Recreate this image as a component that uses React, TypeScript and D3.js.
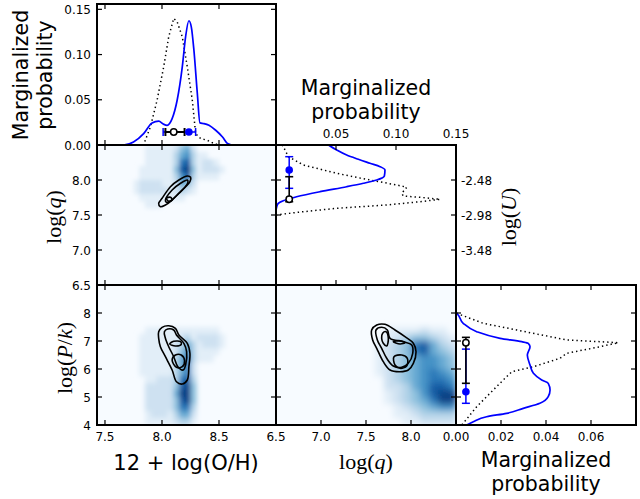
import * as d3 from "d3";

// axis domains
const ohDomain: [number, number] = [7.43, 9.0];
const qDomain: [number, number] = [6.5, 8.5];
const pkDomain: [number, number] = [4, 9];
const probOHDomain: [number, number] = [0, 0.1559];
const probQDomain: [number, number] = [0, 0.15];
const probPkDomain: [number, number] = [0, 0.08];

// ticks
const ohTicks = [7.5, 8.0, 8.5];
const qTicks = [7.0, 7.5, 8.0];
const qTickLabels = [6.5, 7.0, 7.5, 8.0];
const pkTicks = [5, 6, 7, 8];
const pkTickLabels = [4, 5, 6, 7, 8];
const probOHTicks = [0, 0.05, 0.1, 0.15];
const probQTicks = [0.05, 0.1];
const probQTickLabels = [0.05, 0.1, 0.15];
const probPkTicks = [0.02, 0.04, 0.06];
const probPkTickLabels = [0, 0.02, 0.04, 0.06];
const logUTicks = [8.0, 7.5, 7.0]; // log(U) = log(q) - 10.48
const logULabels = ["-2.48", "-2.98", "-3.48"];

// marginal curves: [parameter, probability]
const ohBlue: [number, number][] = [
  [7.43, 0], [7.662, 0], [7.75, 0.0033], [7.839, 0.0126], [7.913, 0.0244], [7.971, 0.0263],
  [8.015, 0.0229], [8.045, 0.0218], [8.089, 0.0292], [8.133, 0.0495], [8.178, 0.0864],
  [8.207, 0.1196], [8.236, 0.1374], [8.257, 0.1307], [8.28, 0.1049], [8.31, 0.0569],
  [8.333, 0.0244], [8.368, 0.0237], [8.412, 0.0218], [8.471, 0.0163], [8.531, 0.0089],
  [8.575, 0.0016], [8.62, 0], [9.0, 0],
];
const ohDotted: [number, number][] = [
  [7.83, 0], [7.839, 0.0004], [7.898, 0.0199], [7.957, 0.0495], [8.015, 0.0864], [8.059, 0.1196],
  [8.103, 0.14], [8.133, 0.1363], [8.178, 0.1196], [8.222, 0.0864], [8.266, 0.0495],
  [8.295, 0.0126], [8.339, 0.0071], [8.398, 0.0052], [8.457, 0.0016], [8.5, 0],
];
const qBlue: [number, number][] = [
  [8.55, 0.04], [8.486, 0.045], [8.429, 0.0506], [8.357, 0.0589], [8.296, 0.0686], [8.239, 0.0783],
  [8.19, 0.0867], [8.143, 0.0908], [8.057, 0.0903], [8.0, 0.0839], [7.953, 0.0728],
  [7.904, 0.0589], [7.833, 0.0367], [7.761, 0.0172], [7.704, 0.0061], [7.667, 0.0019],
  [7.619, 0.0006], [7.55, 0], [6.5, 0],
];
const qDotted: [number, number][] = [
  [8.5, 0.005], [8.476, 0.0061], [8.333, 0.0103], [8.214, 0.0228], [8.096, 0.0506], [8.0, 0.0783],
  [7.929, 0.1006], [7.896, 0.1089], [7.81, 0.1048], [7.771, 0.1061], [7.753, 0.12],
  [7.724, 0.1367], [7.69, 0.12], [7.643, 0.0922], [7.596, 0.0506], [7.547, 0.0228],
  [7.514, 0.0061], [7.5, 0.0006],
];
const pkBlue: [number, number][] = [
  [9.0, 0], [8.0, 0], [7.989, 0.0003], [7.632, 0.0032], [7.332, 0.0092], [7.096, 0.0196],
  [6.975, 0.0292], [6.918, 0.0321], [6.796, 0.0329], [6.5, 0.0317], [6.143, 0.0329],
  [5.846, 0.0344], [5.607, 0.0381], [5.489, 0.041], [5.25, 0.0418], [5.011, 0.041],
  [4.775, 0.0373], [4.596, 0.0299], [4.418, 0.0225], [4.296, 0.0136], [4.118, 0.0077],
  [4.0, 0.0048], [3.95, 0.004],
];
const pkDotted: [number, number][] = [
  [7.989, 0.0003], [7.632, 0.0121], [7.393, 0.027], [7.036, 0.0492], [6.975, 0.064],
  [6.939, 0.0721], [6.796, 0.064], [6.561, 0.0492], [6.382, 0.0462], [6.082, 0.0344],
  [5.904, 0.0248], [5.607, 0.021], [5.132, 0.0151], [4.654, 0.0092], [4.061, 0.0032], [4.0, 0.0025],
];

// best estimates: [low, best, high]
const ohBlueErr = [8.01, 8.236, 8.295];
const ohBlackErr = [8.03, 8.103, 8.198];
const qBlueErr = [7.881, 8.143, 8.333];
const qBlackErr = [7.69, 7.724, 8.047];
const pkBlueErr = [4.775, 5.19, 6.71];
const pkBlackErr = [5.489, 6.939, 7.13];

// 2D density grids, 0-9 scale, one string per row from the top
// 12+log(O/H) columns from 7.40 step 0.05, log(q) rows from 8.5 step 0.1
const heatOHq = [
  "00000000011111245200000000000000",
  "00000000011111356311000000000000",
  "00000000011111378312210000000000",
  "00000000111111489412221000000000",
  "00000000111111368311110000000000",
  "00000001222211254200000000000000",
  "00000001222221232100000000000000",
  "00000000111111110000000000000000",
  "00000000011100000000000000000000",
];
// 12+log(O/H) columns from 7.40 step 0.05, log(P/k) rows from 9.0 step 0.25
const heatOHpk = [
  "", "", "", "", "", "",
  "00000000011111111111110000000000",
  "00000000111111123122221000000000",
  "00000000111111235312221000000000",
  "00000000111111246311110000000000",
  "00000000111111357311100000000000",
  "00000000111111357200000000000000",
  "00000000111111357200000000000000",
  "00000000011222378300000000000000",
  "00000000022222489400000000000000",
  "00000000022222599400000000000000",
  "00000000022222489400000000000000",
  "00000000022222477300000000000000",
  "00000000012221355200000000000000",
  "00000000011111233100000000000000",
];
// log(q) columns from 6.5 step 0.1, log(P/k) rows from 9.0 step 0.25
const heatQpk = [
  "", "", "", "", "", "",
  "00000000000011112110",
  "00000000000012344321",
  "00000000000123478532",
  "00000000000123478543",
  "00000000000123456654",
  "00000000000123456654",
  "00000000000123456765",
  "00000000000023456776",
  "00000000000022356887",
  "00000000000012346899",
  "00000000000012345799",
  "00000000000001234566",
  "00000000000001123333",
  "00000000000000112222",
];

// contour loops (black), [x, y] in data units
const contOHq: [number, number][][] = [
  [[7.971, 7.667], [8.001, 7.739], [8.074, 7.904], [8.148, 8.0], [8.222, 8.057], [8.251, 8.039],
   [8.245, 7.976], [8.207, 7.904], [8.148, 7.81], [8.089, 7.714], [8.03, 7.643], [7.986, 7.619]],
  [[8.03, 7.714], [8.089, 7.857], [8.163, 7.953], [8.222, 8.0], [8.227, 7.961], [8.192, 7.881],
   [8.133, 7.786], [8.074, 7.7], [8.039, 7.681]],
  [[8.039, 7.739], [8.074, 7.753], [8.089, 7.714], [8.059, 7.696]],
];
const contOHpk: [number, number][][] = [
  [[7.971, 7.332], [8.001, 7.489], [8.059, 7.546], [8.118, 7.454], [8.148, 7.214], [8.222, 6.918],
   [8.245, 6.561], [8.236, 6.082], [8.222, 5.607], [8.178, 5.464], [8.127, 5.546], [8.089, 5.964],
   [8.03, 6.439], [7.986, 6.796], [7.971, 7.096]],
  [[8.021, 7.332], [8.05, 7.429], [8.103, 7.393], [8.127, 7.214], [8.192, 6.918], [8.216, 6.618],
   [8.207, 6.143], [8.186, 5.964], [8.139, 6.082], [8.103, 6.439], [8.059, 6.796], [8.03, 7.096]],
  [[8.068, 6.893], [8.103, 6.989], [8.163, 6.975], [8.169, 6.882], [8.118, 6.821]],
  [[8.089, 6.321], [8.118, 6.5], [8.169, 6.5], [8.198, 6.296], [8.178, 6.082], [8.127, 6.061]],
];
const contQpk: [number, number][][] = [
  [[7.563, 7.393], [7.619, 7.571], [7.711, 7.596], [7.822, 7.393], [7.933, 7.154], [8.026, 6.918],
   [8.056, 6.618], [8.026, 6.204], [7.97, 5.964], [7.878, 5.904], [7.767, 5.964], [7.692, 6.261],
   [7.619, 6.739], [7.574, 7.036]],
  [[7.611, 7.393], [7.674, 7.489], [7.737, 7.393], [7.767, 7.096], [7.915, 6.975], [8.008, 6.857],
   [8.019, 6.561], [7.97, 6.204], [7.897, 6.061], [7.803, 6.107], [7.73, 6.382], [7.674, 6.739],
   [7.626, 7.036]],
  [[7.685, 7.275], [7.722, 7.332], [7.748, 7.096], [7.73, 6.821], [7.692, 6.918], [7.674, 7.096]],
  [[7.803, 6.975], [7.878, 7.011], [7.933, 6.939], [7.878, 6.893]],
  [[7.811, 6.439], [7.897, 6.5], [7.959, 6.382], [7.952, 6.107], [7.878, 6.025], [7.822, 6.143]],
];

// layout
const W = 640, H = 499;
const L = 97, C1 = 276, C2 = 456, R = 636;
const T = 4, M1 = 145, M2 = 285, B = 425;
const sans = "DejaVu Sans, sans-serif";
const serif = "Liberation Serif, DejaVu Serif, serif";
const blue = "#0000ff";

type Scale = d3.ScaleLinear<number, number>;

function Heat({ id, rows, x, y, colStart, colStep, rowTop, rowStep, blur }: {
  id: string; rows: string[]; x: Scale; y: Scale;
  colStart: number; colStep: number; rowTop: number; rowStep: number; blur: number;
}) {
  const cells: JSX.Element[] = [];
  rows.forEach((row, j) => {
    for (let i = 0; i < row.length; i++) {
      const v = +row[i];
      if (!v) continue;
      const x0 = x(colStart + i * colStep), x1 = x(colStart + (i + 1) * colStep);
      const y0 = y(rowTop - j * rowStep), y1 = y(rowTop - (j + 1) * rowStep);
      cells.push(
        <rect key={`${id}-${i}-${j}`} x={x0} y={y0} width={x1 - x0 + 0.4} height={y1 - y0 + 0.4}
          fill={d3.interpolateBlues((v / 9) * 0.93)} />
      );
    }
  });
  return (
    <g clipPath={`url(#${id})`}>
      <filter id={`${id}-blur`} x="-10%" y="-10%" width="120%" height="120%">
        <feGaussianBlur stdDeviation={blur} />
      </filter>
      <g filter={`url(#${id}-blur)`}>{cells}</g>
    </g>
  );
}

function Frame({ x0, x1, y0, y1, xt, yt }: { x0: number; x1: number; y0: number; y1: number; xt: number[]; yt: number[] }) {
  const tl = 5;
  return (
    <g stroke="#000">
      {xt.map((px, i) => (
        <g key={`x${i}`} strokeWidth={1.2}>
          <line x1={px} x2={px} y1={y1} y2={y1 - tl} />
          <line x1={px} x2={px} y1={y0} y2={y0 + tl} />
        </g>
      ))}
      {yt.map((py, i) => (
        <g key={`y${i}`} strokeWidth={1.2}>
          <line x1={x0} x2={x0 + tl} y1={py} y2={py} />
          <line x1={x1} x2={x1 - tl} y1={py} y2={py} />
        </g>
      ))}
      <rect x={x0} y={y0} width={x1 - x0} height={y1 - y0} fill="none" strokeWidth={2} />
    </g>
  );
}

export default function App() {
  const xOH = d3.scaleLinear().domain(ohDomain).range([L, C1]);
  const xQ = d3.scaleLinear().domain(qDomain).range([C1, C2]);
  const xProbQ = d3.scaleLinear().domain(probQDomain).range([C1, C2]);
  const xProbPk = d3.scaleLinear().domain(probPkDomain).range([C2, R]);
  const yProbOH = d3.scaleLinear().domain(probOHDomain).range([M1, T]);
  const yQ = d3.scaleLinear().domain(qDomain).range([M2, M1]);
  const yPk = d3.scaleLinear().domain(pkDomain).range([B, M2]);

  const ohLine = d3.line<[number, number]>().x(d => xOH(d[0])).y(d => yProbOH(d[1]));
  const qLine = d3.line<[number, number]>().x(d => xProbQ(d[1])).y(d => yQ(d[0]));
  const pkLine = d3.line<[number, number]>().x(d => xProbPk(d[1])).y(d => yPk(d[0]));

  const loop = (x: Scale, y: Scale) =>
    d3.line<[number, number]>().x(d => x(d[0])).y(d => y(d[1])).curve(d3.curveCatmullRomClosed.alpha(0.5));

  const hErr = (e: number[], yy: number, color: string, w: number) => (
    <g stroke={color} strokeWidth={w}>
      <line x1={xOH(e[0])} x2={xOH(e[2])} y1={yy} y2={yy} />
      <line x1={xOH(e[0])} x2={xOH(e[0])} y1={yy - 4} y2={yy + 4} />
      <line x1={xOH(e[2])} x2={xOH(e[2])} y1={yy - 4} y2={yy + 4} />
    </g>
  );
  const vErr = (e: number[], xx: number, y: Scale, color: string, w: number) => (
    <g stroke={color} strokeWidth={w}>
      <line x1={xx} x2={xx} y1={y(e[0])} y2={y(e[2])} />
      <line x1={xx - 4} x2={xx + 4} y1={y(e[0])} y2={y(e[0])} />
      <line x1={xx - 4} x2={xx + 4} y1={y(e[2])} y2={y(e[2])} />
    </g>
  );

  const ohErrY = yProbOH(0.0144);
  const qErrX = xProbQ(0.011);
  const pkErrX = xProbPk(0.0044);

  const tickText = { fontFamily: sans, fontSize: 12, fill: "#000" };
  const bigText = { fontFamily: sans, fontSize: 20.5, fill: "#000" };
  const mathText = { fontFamily: serif, fontSize: 22, fill: "#000" };

  return (
    <svg width={W} height={H} style={{ position: "absolute", left: 0, top: 0, background: "#fff" }}>
      <defs>
        <clipPath id="p1"><rect x={L} y={T} width={C1 - L} height={M1 - T} /></clipPath>
        <clipPath id="p2"><rect x={L} y={M1} width={C1 - L} height={M2 - M1} /></clipPath>
        <clipPath id="p3"><rect x={C1} y={M1} width={C2 - C1} height={M2 - M1} /></clipPath>
        <clipPath id="p4"><rect x={L} y={M2} width={C1 - L} height={B - M2} /></clipPath>
        <clipPath id="p5"><rect x={C1} y={M2} width={C2 - C1} height={B - M2} /></clipPath>
        <clipPath id="p6"><rect x={C2} y={M2} width={R - C2} height={B - M2} /></clipPath>
      </defs>

      {/* 2D panels */}
      <rect x={L} y={M1} width={C1 - L} height={M2 - M1} fill="#f7fbff" />
      <rect x={L} y={M2} width={C1 - L} height={B - M2} fill="#f7fbff" />
      <rect x={C1} y={M2} width={C2 - C1} height={B - M2} fill="#f7fbff" />
      <Heat id="p2" rows={heatOHq} x={xOH} y={yQ} colStart={7.4} colStep={0.05} rowTop={8.5} rowStep={0.1} blur={2.2} />
      <Heat id="p4" rows={heatOHpk} x={xOH} y={yPk} colStart={7.4} colStep={0.05} rowTop={9} rowStep={0.25} blur={2.4} />
      <Heat id="p5" rows={heatQpk} x={xQ} y={yPk} colStart={6.5} colStep={0.1} rowTop={9} rowStep={0.25} blur={3.2} />

      <g fill="none" stroke="#000" strokeWidth={1.6}>
        <g clipPath="url(#p2)">{contOHq.map((c, i) => <path key={i} d={loop(xOH, yQ)(c) ?? ""} />)}</g>
        <g clipPath="url(#p4)">{contOHpk.map((c, i) => <path key={i} d={loop(xOH, yPk)(c) ?? ""} />)}</g>
        <g clipPath="url(#p5)">{contQpk.map((c, i) => <path key={i} d={loop(xQ, yPk)(c) ?? ""} />)}</g>
      </g>

      {/* marginal panels */}
      <g clipPath="url(#p1)" fill="none">
        <path d={ohLine.curve(d3.curveLinear)(ohDotted) ?? ""} stroke="#000" strokeWidth={1.5} strokeDasharray="1.4 3" />
        <path d={ohLine.curve(d3.curveMonotoneX)(ohBlue) ?? ""} stroke={blue} strokeWidth={1.7} />
      </g>
      <g clipPath="url(#p3)" fill="none">
        <path d={qLine.curve(d3.curveLinear)(qDotted) ?? ""} stroke="#000" strokeWidth={1.5} strokeDasharray="1.4 3" />
        <path d={qLine.curve(d3.curveMonotoneY)(qBlue) ?? ""} stroke={blue} strokeWidth={1.7} />
      </g>
      <g clipPath="url(#p6)" fill="none">
        <path d={pkLine.curve(d3.curveLinear)(pkDotted) ?? ""} stroke="#000" strokeWidth={1.5} strokeDasharray="1.4 3" />
        <path d={pkLine.curve(d3.curveMonotoneY)(pkBlue) ?? ""} stroke={blue} strokeWidth={1.7} />
      </g>

      {/* error bars */}
      {hErr(ohBlueErr, ohErrY, blue, 1.5)}
      {hErr(ohBlackErr, ohErrY, "#000", 2)}
      <circle cx={xOH(ohBlackErr[1])} cy={ohErrY} r={3.2} fill="#fff" stroke="#000" strokeWidth={1.5} />
      <circle cx={xOH(ohBlueErr[1])} cy={ohErrY} r={3.8} fill={blue} />

      {vErr(qBlueErr, qErrX, yQ, blue, 1.5)}
      {vErr(qBlackErr, qErrX, yQ, "#000", 1.6)}
      <circle cx={qErrX} cy={yQ(qBlackErr[1])} r={3.2} fill="#fff" stroke="#000" strokeWidth={1.5} />
      <circle cx={qErrX} cy={yQ(qBlueErr[1])} r={3.8} fill={blue} />

      {vErr(pkBlueErr, pkErrX, yPk, blue, 1.5)}
      {vErr(pkBlackErr, pkErrX, yPk, "#000", 1.6)}
      <circle cx={pkErrX} cy={yPk(pkBlackErr[1])} r={3.2} fill="#fff" stroke="#000" strokeWidth={1.5} />
      <circle cx={pkErrX} cy={yPk(pkBlueErr[1])} r={3.8} fill={blue} />

      {/* frames with inward ticks */}
      <Frame x0={L} x1={C1} y0={T} y1={M1} xt={ohTicks.map(xOH)} yt={probOHTicks.map(yProbOH)} />
      <Frame x0={L} x1={C1} y0={M1} y1={M2} xt={ohTicks.map(xOH)} yt={qTicks.map(yQ)} />
      <Frame x0={C1} x1={C2} y0={M1} y1={M2} xt={probQTicks.map(xProbQ)} yt={qTicks.map(yQ)} />
      <Frame x0={L} x1={C1} y0={M2} y1={B} xt={ohTicks.map(xOH)} yt={pkTicks.map(yPk)} />
      <Frame x0={C1} x1={C2} y0={M2} y1={B} xt={qTicks.map(xQ)} yt={pkTicks.map(yPk)} />
      <Frame x0={C2} x1={R} y0={M2} y1={B} xt={probPkTicks.map(xProbPk)} yt={pkTicks.map(yPk)} />

      {/* tick labels */}
      <g {...tickText} textAnchor="end">
        {probOHTicks.map(t => <text key={`a${t}`} x={91} y={yProbOH(t) + 4.5}>{t.toFixed(2)}</text>)}
        {qTickLabels.map(t => <text key={`b${t}`} x={91} y={yQ(t) + 4.5}>{t.toFixed(1)}</text>)}
        {pkTickLabels.map(t => <text key={`c${t}`} x={91} y={yPk(t) + 4.5}>{t}</text>)}
      </g>
      <g {...tickText} textAnchor="middle">
        {ohTicks.map(t => <text key={`d${t}`} x={xOH(t)} y={441}>{t.toFixed(1)}</text>)}
        {qTickLabels.map(t => <text key={`e${t}`} x={xQ(t)} y={441}>{t.toFixed(1)}</text>)}
        {probPkTickLabels.map(t => <text key={`f${t}`} x={xProbPk(t)} y={441}>{t.toFixed(2)}</text>)}
        {probQTickLabels.map(t => <text key={`g${t}`} x={xProbQ(t)} y={137.5}>{t.toFixed(2)}</text>)}
      </g>
      <g {...tickText} textAnchor="start">
        {logUTicks.map((t, i) => <text key={`h${t}`} x={461} y={yQ(t) + 4.5}>{logULabels[i]}</text>)}
      </g>

      {/* axis titles */}
      <g {...bigText} textAnchor="middle">
        <text transform="translate(28,75) rotate(-90)">Marginalized</text>
        <text transform="translate(52,75) rotate(-90)">probability</text>
        <text x={366} y={95}>Marginalized</text>
        <text x={366} y={119}>probability</text>
        <text x={546} y={467}>Marginalized</text>
        <text x={546} y={491}>probability</text>
        <text x={186} y={470} fontSize={21}>12 + log(O/H)</text>
      </g>
      <g {...mathText} textAnchor="middle">
        <text x={366} y={469}>log(<tspan fontStyle="italic">q</tspan>)</text>
        <text transform="translate(61,217) rotate(-90)">log(<tspan fontStyle="italic">q</tspan>)</text>
        <text transform="translate(72,358) rotate(-90)">log(<tspan fontStyle="italic">P</tspan>/<tspan fontStyle="italic">k</tspan>)</text>
        <text transform="translate(516,217) rotate(-90)">log(<tspan fontStyle="italic">U</tspan>)</text>
      </g>
    </svg>
  );
}
